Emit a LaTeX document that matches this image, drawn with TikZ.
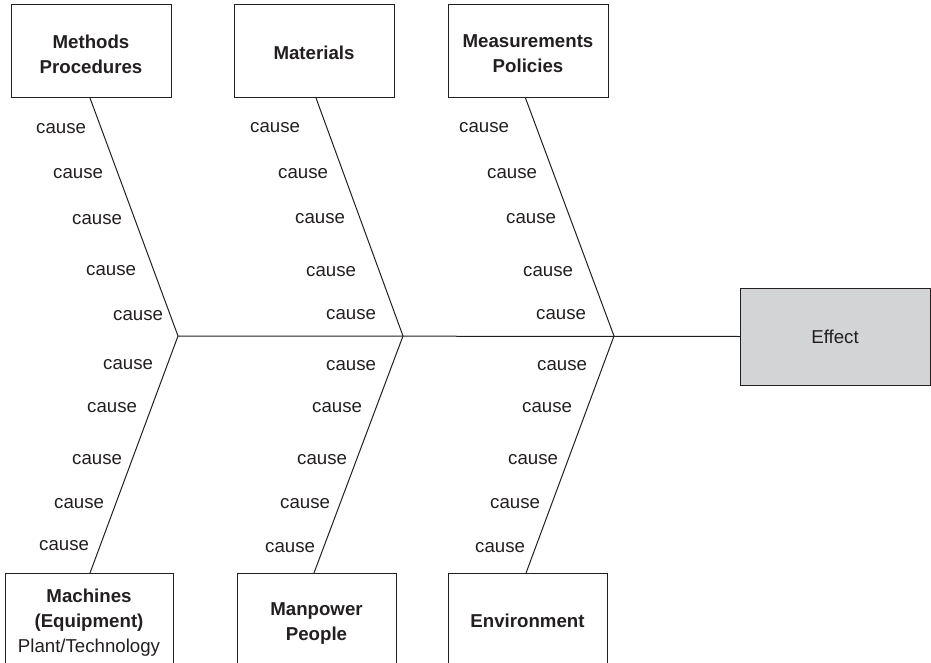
\documentclass[tikz,border=0pt]{standalone}
\usepackage{fontspec}
\setmainfont{Liberation Sans}
\definecolor{ink}{RGB}{35,31,32}
\definecolor{effectfill}{RGB}{211,212,214}
\tikzset{
  catbox/.style={draw=ink, line width=0.75pt, inner sep=0pt, outer sep=0pt},
  catlbl/.style={align=center, text=ink, inner sep=0pt,
    font=\fontsize{14}{18.75}\selectfont\bfseries},
  effectbox/.style={draw=ink, line width=0.75pt, fill=effectfill, inner sep=0pt,
    outer sep=0pt, text=ink, font=\fontsize{14}{17}\selectfont},
  causelbl/.style={anchor=east, inner sep=0pt, outer sep=0pt, text=ink,
    yshift=-1.5pt, font=\fontsize{14}{17}\selectfont},
  bone/.style={draw=ink, line width=0.75pt},
}
\begin{document}
\begin{tikzpicture}[x=0.75pt, y=-0.75pt]
\useasboundingbox (0,0) rectangle (931,663);

% category boxes, top row
\node[catbox, minimum width=120pt, minimum height=69.75pt,
  label={[catlbl, yshift=-2pt]center:Methods\\Procedures}] (meth) at (91,51.5) {};
\node[catbox, minimum width=120pt, minimum height=69.75pt,
  label={[catlbl, yshift=-0.75pt]center:Materials}] (mat) at (314,51.5) {};
\node[catbox, minimum width=120pt, minimum height=69.75pt,
  label={[catlbl, yshift=-2pt]center:Measurements\\Policies}] (meas) at (528,51.5) {};

% category boxes, bottom row (run past the lower edge)
\node[catbox, minimum width=126pt, minimum height=69pt,
  label={[catlbl, yshift=-2.5pt]center:Machines\\(Equipment)\\\mdseries Plant/Technology}] (mach) at (89,619) {};
\node[catbox, minimum width=119.25pt, minimum height=70.5pt,
  label={[catlbl, yshift=-2.5pt]center:Manpower\\People}] (man) at (316.5,620) {};
\node[catbox, minimum width=119.25pt, minimum height=70.5pt,
  label={[catlbl, yshift=-0.75pt]center:Environment}] (env) at (527.5,620) {};

% effect
\node[effectbox, minimum width=142.5pt, minimum height=72.75pt] (effect) at (835,336.5) {\raisebox{-0.75pt}{Effect}};

% spine junctions
\coordinate (j1) at (178,336);
\coordinate (j2) at (403,336);
\coordinate (j3) at (614,336);

% spine and bones
\draw[bone] (j1) -- (effect.west);
\draw[bone] ([xshift=-0.75pt]meth.south) -- (j1) -- ([xshift=0.75pt]mach.north);
\draw[bone] ([xshift=1.5pt]mat.south) -- (j2) -- ([xshift=-1.9pt]man.north);
\draw[bone] ([xshift=-1.9pt]meas.south) -- (j3) -- ([xshift=-1.1pt]env.north);

% causes: methods
\node[causelbl] (c11) at (86,127) {cause};
\node[causelbl] (c12) at (103,172) {cause};
\node[causelbl] (c13) at (122,218) {cause};
\node[causelbl] (c14) at (136,269) {cause};
\node[causelbl] (c15) at (163,314) {cause};
% causes: materials
\node[causelbl] (c21) at (300,126) {cause};
\node[causelbl] (c22) at (328,172) {cause};
\node[causelbl] (c23) at (345,217) {cause};
\node[causelbl] (c24) at (356,270) {cause};
\node[causelbl] (c25) at (376,313) {cause};
% causes: measurements
\node[causelbl] (c31) at (509,126) {cause};
\node[causelbl] (c32) at (537,172) {cause};
\node[causelbl] (c33) at (556,217) {cause};
\node[causelbl] (c34) at (573,270) {cause};
\node[causelbl] (c35) at (586,313) {cause};
% causes: machines
\node[causelbl] (c41) at (153,363) {cause};
\node[causelbl] (c42) at (137,406) {cause};
\node[causelbl] (c43) at (122,458) {cause};
\node[causelbl] (c44) at (104,502) {cause};
\node[causelbl] (c45) at (89,544) {cause};
% causes: manpower
\node[causelbl] (c51) at (376,364) {cause};
\node[causelbl] (c52) at (362,406) {cause};
\node[causelbl] (c53) at (347,458) {cause};
\node[causelbl] (c54) at (330,502) {cause};
\node[causelbl] (c55) at (315,546) {cause};
% causes: environment
\node[causelbl] (c61) at (587,364) {cause};
\node[causelbl] (c62) at (572,406) {cause};
\node[causelbl] (c63) at (558,458) {cause};
\node[causelbl] (c64) at (540,502) {cause};
\node[causelbl] (c65) at (525,546) {cause};
\end{tikzpicture}
\end{document}
